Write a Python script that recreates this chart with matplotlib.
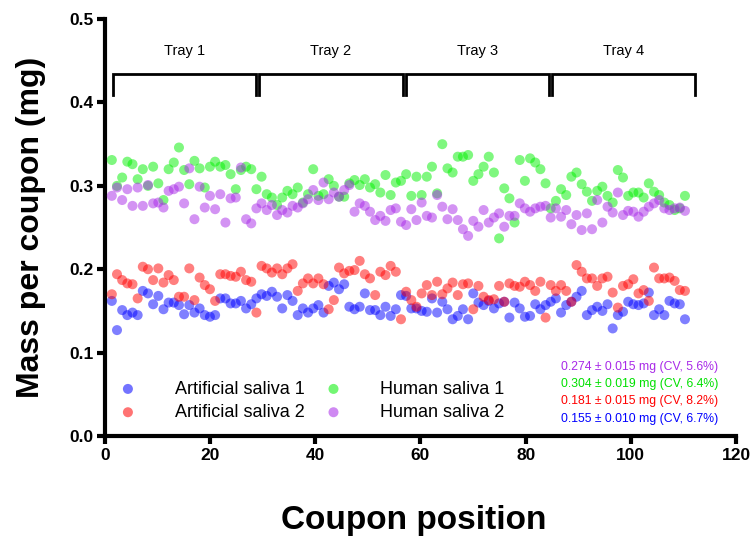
import numpy as np
import matplotlib
matplotlib.use('Agg')
import matplotlib.pyplot as plt

plt.rcParams['font.family'] = ['Liberation Sans', 'DejaVu Sans']

# values (mg per coupon), 112 coupons
art1 = [0.162, 0.127, 0.151, 0.145, 0.148, 0.145, 0.174, 0.171, 0.158, 0.168,
        0.152, 0.160, 0.160, 0.157, 0.146, 0.157, 0.148, 0.153, 0.145, 0.143,
        0.145, 0.165, 0.165, 0.159, 0.159, 0.162, 0.153, 0.158, 0.165, 0.170,
        0.168, 0.173, 0.167, 0.153, 0.169, 0.162, 0.145, 0.153, 0.148, 0.153,
        0.157, 0.148, 0.180, 0.184, 0.176, 0.182, 0.155, 0.152, 0.155, 0.171,
        0.151, 0.151, 0.145, 0.155, 0.144, 0.152, 0.169, 0.168, 0.153, 0.153,
        0.150, 0.149, 0.165, 0.148, 0.161, 0.152, 0.140, 0.144, 0.152, 0.140,
        0.171, 0.160, 0.157, 0.162, 0.153, 0.159, 0.161, 0.142, 0.160, 0.153,
        0.143, 0.144, 0.158, 0.152, 0.157, 0.161, 0.165, 0.148, 0.157, 0.161,
        0.167, 0.174, 0.145, 0.151, 0.155, 0.150, 0.158, 0.129, 0.145, 0.149,
        0.161, 0.158, 0.157, 0.159, 0.172, 0.145, 0.152, 0.145, 0.162, 0.159,
        0.158, 0.140]

art2 = [0.170, 0.194, 0.187, 0.183, 0.182, 0.165, 0.203, 0.200, 0.187, 0.201,
        0.184, 0.193, 0.187, 0.167, 0.167, 0.201, 0.163, 0.190, 0.181, 0.176,
        0.162, 0.194, 0.194, 0.192, 0.191, 0.197, 0.187, 0.185, 0.148, 0.204,
        0.201, 0.196, 0.201, 0.194, 0.201, 0.206, 0.174, 0.183, 0.189, 0.183,
        0.189, 0.182, 0.152, 0.163, 0.202, 0.195, 0.198, 0.199, 0.210, 0.194,
        0.189, 0.169, 0.197, 0.193, 0.204, 0.197, 0.140, 0.173, 0.163, 0.155,
        0.171, 0.181, 0.169, 0.185, 0.170, 0.177, 0.184, 0.169, 0.182, 0.183,
        0.152, 0.180, 0.167, 0.163, 0.164, 0.180, 0.161, 0.183, 0.180, 0.179,
        0.185, 0.181, 0.174, 0.185, 0.142, 0.181, 0.174, 0.181, 0.174, 0.161,
        0.205, 0.197, 0.189, 0.189, 0.180, 0.189, 0.191, 0.172, 0.154, 0.180,
        0.182, 0.188, 0.171, 0.175, 0.162, 0.202, 0.189, 0.189, 0.190, 0.186,
        0.175, 0.174]

hum1 = [0.331, 0.300, 0.310, 0.329, 0.326, 0.308, 0.320, 0.300, 0.323, 0.303,
        0.283, 0.320, 0.328, 0.346, 0.319, 0.302, 0.330, 0.321, 0.298, 0.323,
        0.329, 0.323, 0.325, 0.314, 0.296, 0.319, 0.323, 0.320, 0.296, 0.311,
        0.290, 0.286, 0.277, 0.286, 0.294, 0.290, 0.298, 0.280, 0.290, 0.320,
        0.288, 0.290, 0.308, 0.300, 0.287, 0.287, 0.303, 0.307, 0.301, 0.308,
        0.298, 0.302, 0.292, 0.313, 0.289, 0.304, 0.306, 0.314, 0.288, 0.311,
        0.289, 0.311, 0.323, 0.291, 0.350, 0.321, 0.316, 0.335, 0.335, 0.337,
        0.306, 0.314, 0.323, 0.335, 0.316, 0.237, 0.297, 0.285, 0.256, 0.331,
        0.306, 0.333, 0.328, 0.320, 0.303, 0.273, 0.282, 0.296, 0.289, 0.311,
        0.316, 0.302, 0.293, 0.282, 0.294, 0.299, 0.288, 0.280, 0.319, 0.310,
        0.288, 0.292, 0.292, 0.286, 0.303, 0.293, 0.289, 0.280, 0.277, 0.271,
        0.273, 0.288]

hum2 = [0.288, 0.298, 0.283, 0.296, 0.276, 0.298, 0.276, 0.301, 0.279, 0.280,
        0.274, 0.294, 0.296, 0.299, 0.279, 0.321, 0.260, 0.299, 0.274, 0.288,
        0.272, 0.290, 0.256, 0.285, 0.286, 0.322, 0.260, 0.255, 0.273, 0.279,
        0.271, 0.277, 0.265, 0.271, 0.268, 0.276, 0.274, 0.279, 0.284, 0.295,
        0.283, 0.304, 0.284, 0.292, 0.287, 0.295, 0.301, 0.269, 0.279, 0.276,
        0.269, 0.259, 0.264, 0.258, 0.271, 0.273, 0.257, 0.253, 0.272, 0.259,
        0.280, 0.264, 0.262, 0.289, 0.275, 0.260, 0.272, 0.259, 0.248, 0.240,
        0.258, 0.251, 0.271, 0.256, 0.262, 0.267, 0.251, 0.264, 0.264, 0.279,
        0.273, 0.269, 0.273, 0.275, 0.276, 0.262, 0.273, 0.263, 0.271, 0.254,
        0.265, 0.247, 0.267, 0.248, 0.283, 0.256, 0.275, 0.268, 0.292, 0.265,
        0.270, 0.269, 0.263, 0.269, 0.275, 0.279, 0.283, 0.273, 0.271, 0.273,
        0.274, 0.270]

# coupon positions as they sit on the reference x axis
pos = np.linspace(1.3, 110.3, len(art1))

labels = ['Artificial saliva 1', 'Artificial saliva 2',
          'Human saliva 1', 'Human saliva 2']
colors = ['#0000ff', '#ff0000', '#00f000', '#a829e8']
stats = ['0.274 \u00b1 0.015 mg (CV, 5.6%)', '0.304 \u00b1 0.019 mg (CV, 6.4%)',
         '0.181 \u00b1 0.015 mg (CV, 8.2%)', '0.155 \u00b1 0.010 mg (CV, 6.7%)']
stat_colors = ['#a829e8', '#00e000', '#ff0000', '#0000ff']
trays = ['Tray 1', 'Tray 2', 'Tray 3', 'Tray 4']
tray_edges = [(1.5, 28.7), (29.3, 56.6), (57.2, 84.5), (85.1, 112.2)]

fs = 12.5

fig = plt.figure(figsize=(7.5, 5.46), dpi=100)
ax = fig.add_axes([0.14, 0.2015, 0.8413, 0.7635])

for vals, lab, col in zip([art1, art2, hum1, hum2], labels, colors):
    ax.scatter(pos, vals, s=52, color=col, alpha=0.5, edgecolors='none',
               label=lab, zorder=3)

# tray brackets
for (a, b), name in zip(tray_edges, trays):
    ax.plot([a, a, b, b], [0.409, 0.434, 0.434, 0.409], color='k', lw=2,
            solid_joinstyle='miter')
    ax.text((a + b) / 2., 0.462, name, ha='center', va='center', fontsize=10.5)

ax.set_xlim(0, 120)
ax.set_ylim(0, 0.5)
ax.set_xticks(np.arange(0, 121, 20))
ax.set_yticks(np.arange(0, 0.51, 0.1))
ax.set_yticklabels(['%.1f' % v for v in np.arange(0, 0.51, 0.1)])

for sp in ['top', 'right']:
    ax.spines[sp].set_visible(False)
for sp in ['left', 'bottom']:
    ax.spines[sp].set_linewidth(3)
ax.tick_params('both', length=6, width=3, direction='out', labelsize=fs,
               pad=2.5)
for t in ax.get_xticklabels() + ax.get_yticklabels():
    t.set_fontweight('bold')

ax.set_xlabel('Coupon position', fontsize=24, fontweight='bold')
ax.xaxis.set_label_coords(0.49, -0.165)
ax.set_ylabel('Mass per coupon (mg)', fontsize=23, fontweight='bold')
ax.yaxis.set_label_coords(-0.093, 0.5)

leg = ax.legend(loc='lower left', ncol=2, frameon=False, fontsize=13,
                handlelength=1.0, handletextpad=2.1, columnspacing=1.1,
                labelspacing=0.35, borderpad=0, borderaxespad=0,
                bbox_to_anchor=(0.022, 0.036))
for h in leg.legend_handles:
    h.set_alpha(0.55)

for i, (txt, col) in enumerate(zip(stats, stat_colors)):
    ax.text(0.9716, 0.166 - i * 0.0415, txt, color=col, fontsize=8.8,
            ha='right', va='center', transform=ax.transAxes)

fig.savefig('out.png', dpi=100)
